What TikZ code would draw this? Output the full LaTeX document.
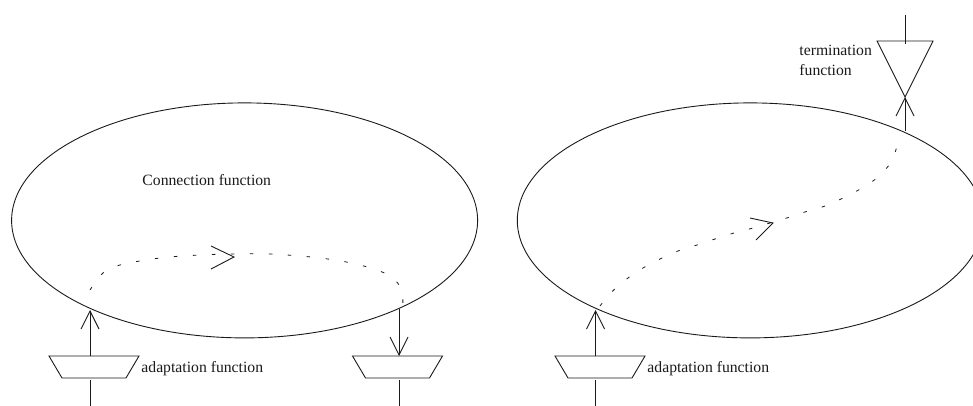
\documentclass[tikz,border=0pt]{standalone}
\usepackage{fontspec}
\setmainfont{Liberation Serif}
\usetikzlibrary{shapes.geometric,arrows.meta}
\definecolor{ink}{HTML}{1A1A1A}
\tikzset{
  oval/.style={draw,ellipse,inner sep=0pt,minimum width=466pt,minimum height=235pt},
  adapter/.pic={\draw (-45,-11) -- (45,-11) -- (32,11) -- (-32,11) -- cycle;},
  label/.style={inner sep=0pt,anchor=west,align=left,text=ink,font=\fontsize{15.7}{20}\selectfont},
  flow/.style={-{Straight Barb[length=18pt,width=18pt,line width=0.9pt]}},
  trace/.style={line width=0.8pt,dash pattern=on 3.5pt off 15.5pt},
  barb/.style={line join=miter}
}
\begin{document}
\begin{tikzpicture}[x=1pt,y=-1pt,color=ink,line width=0.9pt]
\clip (0,0) rectangle (973,406);
\path[use as bounding box] (0,0) rectangle (973,406);
\node[oval] (connL) at (244.6,220.4) {};
\node[oval] (connR) at (750.3,220.4) {};
\pic (adL) at (94,367) {adapter};
\pic (adM) at (397.5,367) {adapter};
\pic (adR) at (600,367) {adapter};
\coordinate (ta) at (877,41); \coordinate (tb) at (933,41); \coordinate (tc) at (905,97);
\draw (ta) -- (tb) -- (tc) -- cycle;
\node[label] (lconn) at (142,180) {Connection function};
\node[label] (ladL) at (141,369) {adaptation function};
\node[label] (ladR) at (647,369) {adaptation function};
\node[label] (lterm) at (799,60) {termination\\function};
% connector ends
\coordinate (a1) at (90,356); \coordinate (a1t) at (90,310);
\coordinate (a1b) at (90,380); \coordinate (a1e) at (90,406);
\coordinate (a2) at (399,309); \coordinate (a2t) at (399,356);
\coordinate (a2b) at (399,380); \coordinate (a2e) at (399,406);
\coordinate (a3) at (595.5,356); \coordinate (a3t) at (595.5,310);
\coordinate (a3b) at (595.5,380); \coordinate (a3e) at (595.5,406);
\coordinate (t1) at (905,15); \coordinate (t2) at (905,44);
\coordinate (t3) at (905,131);
\draw[flow] (a1) -- (a1t);
\draw (a1b) -- (a1e);
\draw[flow] (a2) -- (a2t);
\draw (a2b) -- (a2e);
\draw[flow] (a3) -- (a3t);
\draw (a3b) -- (a3e);
\draw (t1) -- (t2);
\draw[flow] (t3) -- (tc);
% dotted traces
\draw[trace] plot[smooth,tension=0.6] coordinates {(90,290) (103,273) (120,265) (160,258) (200,255) (234,254) (270,254) (320,258) (360,265) (390,276) (402,292) (402,315)};
\draw[trace] plot[smooth,tension=0.6] coordinates {(600,306) (611.7,292) (626.7,279) (643,268) (660,259) (678,251) (697,245) (715,239) (734,233) (753,228) (790,217) (808,211) (828,205) (845,197) (862,188) (878,177) (891,162) (898,143)};
% mid-trace arrow barbs
\coordinate (hL) at (234,257); \coordinate (hLa) at (211,246); \coordinate (hLb) at (211,269);
\coordinate (hR) at (773,223); \coordinate (hRa) at (750,218); \coordinate (hRb) at (756,240);
\draw[barb] (hLa) -- (hL) -- (hLb);
\draw[barb] (hRa) -- (hR) -- (hRb);
\end{tikzpicture}
\end{document}
